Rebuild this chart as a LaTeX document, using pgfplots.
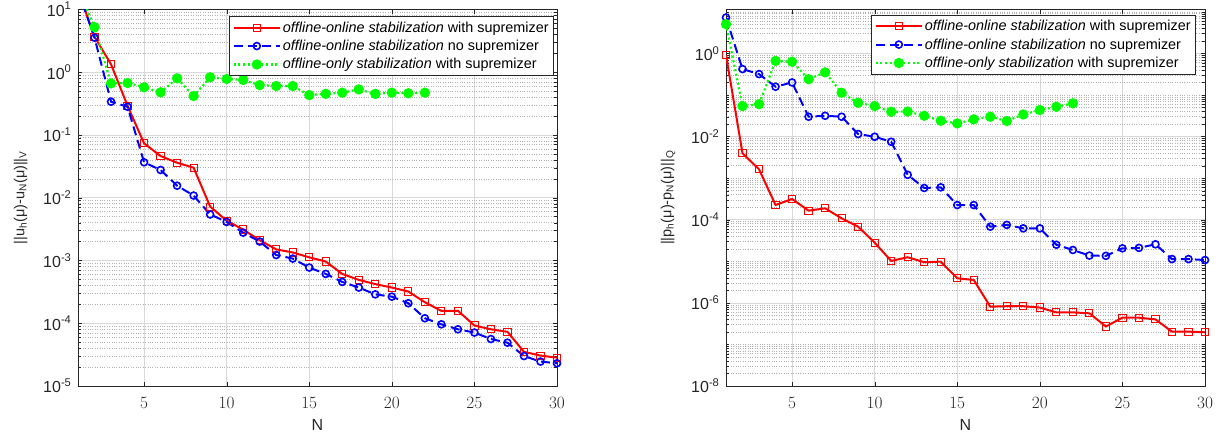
\documentclass[border=0pt]{standalone}
\usepackage{fontspec}
\setmainfont{Liberation Sans}
\usepackage{pgfplots}
\pgfplotsset{compat=1.18}

\definecolor{mred}{rgb}{1,0,0}
\definecolor{mblue}{rgb}{0,0,1}
\definecolor{mgreen}{rgb}{0,1,0}

\tikzset{
  redl/.style={mred, line width=2pt, mark=square, mark size=3.6pt, mark options={solid, line width=1pt}},
  bluel/.style={mblue, line width=2pt, dash pattern=on 9pt off 5pt, mark=o, mark size=3.5pt, mark options={solid, line width=1.6pt}},
  greenl/.style={mgreen, line width=2.2pt, dash pattern=on 2pt off 2.6pt, mark=*, mark size=4pt, mark options={solid}},
}

\begin{document}
\begin{tikzpicture}

\begin{axis}[
  scale only axis, width=479pt, height=376.7pt,
  xmin=1, xmax=30, xtick={5,10,...,30},
  ymode=log,
  grid=both,
  major grid style={black!15, line width=0.6pt},
  minor grid style={black!30, dotted, line width=0.5pt},
  axis line style={black!85, line width=0.7pt},
  tick style={black!85},
  xticklabel style={font=\fontsize{16}{18}\selectfont, text=black!85, yshift=-8pt},
  yticklabel style={font=\fontsize{16}{18}\selectfont, text=black!85, xshift=-3pt},
  xlabel style={font=\fontsize{16}{18}\selectfont, text=black!85, yshift=-4pt},
  ylabel style={font=\fontsize{14.5}{16}\selectfont, text=black!85, yshift=9pt},
  xlabel={N},
  legend style={at={(1,1)}, xshift=-3pt, yshift=-7pt, anchor=north east,
    draw=black!85, line width=0.7pt, font=\fontsize{14.4}{16}\selectfont,
    cells={anchor=west}, inner ysep=3pt, row sep=2.5pt},
  legend image code/.code={
    \draw[mark repeat=2,mark phase=2] plot coordinates {(0pt,0pt) (23pt,0pt) (46pt,0pt)};},
  ymin=1e-5, ymax=10,
  ytick={1e-5,1e-4,1e-3,1e-2,1e-1,1,10},
  yticklabels={10\textsuperscript{-5},10\textsuperscript{-4},10\textsuperscript{-3},10\textsuperscript{-2},10\textsuperscript{-1},10\textsuperscript{0},10\textsuperscript{1}},
  ylabel={||u\textsubscript{h}(μ)-u\textsubscript{N}(μ)||\textsubscript{V}},
]
\addplot[redl] table {
1 20
2 3.66
3 1.33
4 0.29
5 0.0734
6 0.046
7 0.036
8 0.030
9 0.0072
10 0.0043
11 0.0031
12 0.0021
13 0.0015
14 0.00134
15 0.00112
16 0.00096
17 0.00061
18 0.00049
19 0.00042
20 0.00037
21 0.00032
22 0.000216
23 0.000157
24 0.000158
25 9.2e-5
26 8.0e-5
27 7.3e-5
28 3.5e-5
29 3.05e-5
30 2.83e-5
};
\addlegendentry{\textit{offline-online stabilization} with supremizer}
\addplot[bluel] table {
1 20
2 3.53
3 0.338
4 0.28
5 0.0366
6 0.0276
7 0.0155
8 0.0108
9 0.0054
10 0.0041
11 0.00277
12 0.0020
13 0.00122
14 0.00107
15 0.00077
16 0.00061
17 0.000455
18 0.00037
19 0.000288
20 0.000265
21 0.000208
22 0.00012
23 9.6e-5
24 8.0e-5
25 7.1e-5
26 5.6e-5
27 4.9e-5
28 3.0e-5
29 2.45e-5
30 2.3e-5
};
\addlegendentry{\textit{offline-online stabilization} no supremizer}
\addplot[greenl] table {
1 22
2 5.2
3 0.66
4 0.67
5 0.573
6 0.476
7 0.796
8 0.416
9 0.826
10 0.776
11 0.75
12 0.62
13 0.6
14 0.6
15 0.43
16 0.45
17 0.47
18 0.53
19 0.45
20 0.47
21 0.46
22 0.47
};
\addlegendentry{\textit{offline-only stabilization} with supremizer}
\end{axis}

\begin{axis}[at={(648pt,0pt)},
  scale only axis, width=479pt, height=376.7pt,
  xmin=1, xmax=30, xtick={5,10,...,30},
  ymode=log,
  grid=both,
  major grid style={black!15, line width=0.6pt},
  minor grid style={black!30, dotted, line width=0.5pt},
  axis line style={black!85, line width=0.7pt},
  tick style={black!85},
  xticklabel style={font=\fontsize{16}{18}\selectfont, text=black!85, yshift=-8pt},
  yticklabel style={font=\fontsize{16}{18}\selectfont, text=black!85, xshift=-3pt},
  xlabel style={font=\fontsize{16}{18}\selectfont, text=black!85, yshift=-4pt},
  ylabel style={font=\fontsize{14.5}{16}\selectfont, text=black!85, yshift=9pt},
  xlabel={N},
  legend style={at={(1,1)}, xshift=-9pt, yshift=-5.5pt, anchor=north east,
    draw=black!85, line width=0.7pt, font=\fontsize{14.4}{16}\selectfont,
    cells={anchor=west}, inner ysep=3pt, row sep=2.5pt},
  legend image code/.code={
    \draw[mark repeat=2,mark phase=2] plot coordinates {(0pt,0pt) (23pt,0pt) (46pt,0pt)};},
  ymin=1e-8, ymax=11.5,
  ytick={1e-8,1e-6,1e-4,1e-2,1},
  yticklabels={10\textsuperscript{-8},10\textsuperscript{-6},10\textsuperscript{-4},10\textsuperscript{-2},10\textsuperscript{0}},
  minor ytick={2e-8,3e-8,4e-8,5e-8,6e-8,7e-8,8e-8,9e-8,1e-7,
    2e-7,3e-7,4e-7,5e-7,6e-7,7e-7,8e-7,9e-7,
    2e-6,3e-6,4e-6,5e-6,6e-6,7e-6,8e-6,9e-6,1e-5,
    2e-5,3e-5,4e-5,5e-5,6e-5,7e-5,8e-5,9e-5,
    2e-4,3e-4,4e-4,5e-4,6e-4,7e-4,8e-4,9e-4,1e-3,
    2e-3,3e-3,4e-3,5e-3,6e-3,7e-3,8e-3,9e-3,
    2e-2,3e-2,4e-2,5e-2,6e-2,7e-2,8e-2,9e-2,1e-1,
    2e-1,3e-1,4e-1,5e-1,6e-1,7e-1,8e-1,9e-1,
    2,3,4,5,6,7,8,9,10},
  ylabel={||p\textsubscript{h}(μ)-p\textsubscript{N}(μ)||\textsubscript{Q}},
]
\addplot[redl] table {
1 0.91
2 0.00394
3 0.00163
4 0.000226
5 0.000315
6 0.000165
7 0.000188
8 0.000108
9 6.8e-5
10 2.8e-5
11 1.02e-5
12 1.25e-5
13 9.5e-6
14 9.8e-6
15 3.9e-6
16 3.55e-6
17 8.1e-7
18 8.3e-7
19 8.3e-7
20 7.7e-7
21 5.9e-7
22 5.9e-7
23 5.6e-7
24 2.7e-7
25 4.4e-7
26 4.4e-7
27 4.0e-7
28 2.03e-7
29 2.03e-7
30 1.96e-7
};
\addlegendentry{\textit{offline-online stabilization} with supremizer}
\addplot[bluel] table {
1 7.3
2 0.42
3 0.318
4 0.158
5 0.2
6 0.030
7 0.0316
8 0.030
9 0.0115
10 0.0099
11 0.0075
12 0.0012
13 0.00058
14 0.0006
15 0.000225
16 0.000225
17 6.8e-5
18 7.5e-5
19 6.2e-5
20 6.2e-5
21 2.5e-5
22 1.87e-5
23 1.37e-5
24 1.35e-5
25 2.05e-5
26 2.1e-5
27 2.56e-5
28 1.13e-5
29 1.13e-5
30 1.07e-5
};
\addlegendentry{\textit{offline-online stabilization} no supremizer}
\addplot[greenl] table {
1 5.06
2 0.054
3 0.060
4 0.66
5 0.63
6 0.24
7 0.35
8 0.113
9 0.065
10 0.054
11 0.0395
12 0.04
13 0.0316
14 0.024
15 0.0207
16 0.0259
17 0.030
18 0.0236
19 0.034
20 0.0434
21 0.052
22 0.063
};
\addlegendentry{\textit{offline-only stabilization} with supremizer}
\end{axis}

\pgfresetboundingbox
\path (-78pt,-56pt) rectangle (1148pt,386pt);
\end{tikzpicture}
\end{document}
